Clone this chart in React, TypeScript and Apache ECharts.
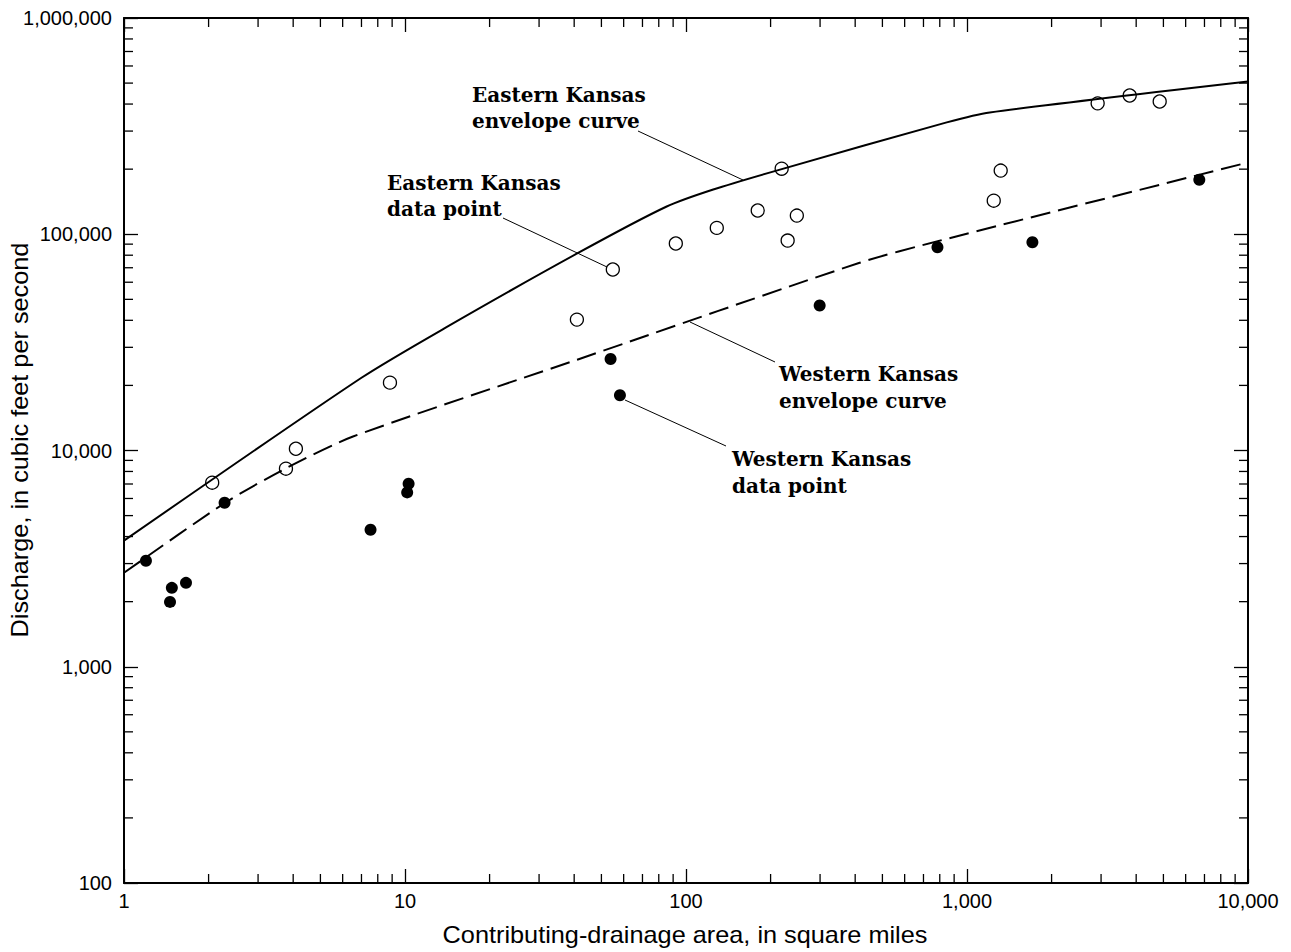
import React, { useEffect, useRef } from "react";
import * as echarts from "echarts";

// Eastern Kansas data points (open circles): [area sq mi, discharge cfs]
const eastArea = [2.06, 3.77, 4.09, 8.84, 40.9, 54.9, 92, 128.7, 180, 219, 230, 248, 1245, 1318, 2917, 3793, 4850];
const eastQ = [7100, 8240, 10190, 20600, 40300, 68700, 90600, 107000, 128800, 201000, 93500, 122000, 143000, 197000, 403000, 438000, 411000];

// Western Kansas data points (filled circles)
const westArea = [1.197, 1.48, 1.458, 1.662, 2.28, 7.54, 10.3, 10.18, 53.9, 58.2, 299, 785, 1709, 6710];
const westQ = [3090, 2317, 1995, 2443, 5730, 4300, 7020, 6400, 26500, 18000, 46800, 87100, 91800, 178600];

// Envelope curves
const eastEnvArea = [1, 7, 14, 41, 85, 125, 216, 847, 1205, 10000];
const eastEnvQ = [3830, 21700, 37100, 81500, 134000, 161000, 199000, 329000, 366000, 509000];
const westEnvArea = [1, 2.29, 3.8, 6.53, 41, 415, 787, 10000];
const westEnvQ = [2720, 5730, 8320, 11600, 26300, 73800, 92900, 214700];

// Minor tick values
const xMinorTicks = [2, 3, 4, 5, 6, 7, 8, 9, 20, 30, 40, 50, 60, 70, 80, 90, 200, 300, 400, 500, 600, 700, 800, 900, 2000, 3000, 4000, 5000, 6000, 7000, 8000, 9000];
const yMinorTicks = [200, 300, 400, 500, 600, 700, 800, 900, 2000, 3000, 4000, 5000, 6000, 7000, 8000, 9000, 20000, 30000, 40000, 50000, 60000, 70000, 80000, 90000, 200000, 300000, 400000, 500000, 600000, 700000, 800000, 900000];

const xTitle = "Contributing-drainage area, in square miles";
const yTitle = "Discharge, in cubic feet per second";

const zip = (a: number[], b: number[]) => a.map((v, i) => [v, b[i]]);
const fmt = (v: number) => String(Math.round(v)).replace(/\B(?=(\d{3})+(?!\d))/g, ",");

const SANS = "'Liberation Sans', Arial, sans-serif";
const SERIF = "'DejaVu Serif', serif";

export default function App() {
  const ref = useRef<HTMLDivElement>(null);
  useEffect(() => {
    if (!ref.current) return;
    const chart = echarts.init(ref.current, undefined, { renderer: "svg" });
    const axisLine = { show: true, lineStyle: { color: "#000", width: 2 } };
    const majorTick = { show: true, inside: true, length: 14, lineStyle: { color: "#000", width: 1.3 } };
    const label = (show: boolean, margin: number) => ({
      show,
      color: "#000",
      fontSize: 20,
      fontFamily: SANS,
      margin,
      formatter: (v: number) => fmt(v),
      showMinLabel: true,
      showMaxLabel: true,
    });
    const annText = (text: string, x: number, y: number) => ({
      type: "text",
      x,
      y,
      silent: true,
      style: {
        text,
        fill: "#000",
        fontSize: 20,
        fontWeight: "bold",
        fontFamily: SERIF,
        align: "left",
        verticalAlign: "middle",
        textAlign: "left",
        textVerticalAlign: "middle",
      },
    });
    const titleText = (text: string, x: number, y: number, rotation: number) => ({
      type: "text",
      x,
      y,
      rotation,
      scaleX: 1.1,
      silent: true,
      style: {
        text,
        fill: "#000",
        fontSize: 23,
        fontFamily: SANS,
        align: "center",
        verticalAlign: "middle",
        textAlign: "center",
        textVerticalAlign: "middle",
      },
    });
    const leader = (x1: number, y1: number, x2: number, y2: number) => ({
      type: "line",
      silent: true,
      shape: { x1, y1, x2, y2 },
      style: { stroke: "#000", lineWidth: 1 },
    });
    const tickRender = (dir: "x" | "y") => (params: any, api: any) => {
      const cs = params.coordSys;
      const pt = api.coord([api.value(0), api.value(1)]);
      const st = { stroke: "#000", lineWidth: 1.3 };
      const L = 9;
      if (dir === "x") {
        return {
          type: "group",
          children: [
            { type: "line", shape: { x1: pt[0], y1: cs.y + cs.height, x2: pt[0], y2: cs.y + cs.height - L }, style: st },
            { type: "line", shape: { x1: pt[0], y1: cs.y, x2: pt[0], y2: cs.y + L }, style: st },
          ],
        };
      }
      return {
        type: "group",
        children: [
          { type: "line", shape: { x1: cs.x, y1: pt[1], x2: cs.x + L, y2: pt[1] }, style: st },
          { type: "line", shape: { x1: cs.x + cs.width, y1: pt[1], x2: cs.x + cs.width - L, y2: pt[1] }, style: st },
        ],
      };
    };

    chart.setOption({
      animation: false,
      grid: { left: 124, right: 43, top: 18, bottom: 69, containLabel: false },
      xAxis: [
        {
          type: "log",
          logBase: 10,
          min: 1,
          max: 10000,
          position: "bottom",
          axisLine,
          axisTick: majorTick,
          axisLabel: label(true, 8),
          splitLine: { show: false },
        },
        {
          type: "log",
          logBase: 10,
          min: 1,
          max: 10000,
          position: "top",
          axisLine,
          axisTick: majorTick,
          axisLabel: { show: false },
          splitLine: { show: false },
        },
      ],
      yAxis: [
        {
          type: "log",
          logBase: 10,
          min: 100,
          max: 1000000,
          position: "left",
          axisLine,
          axisTick: majorTick,
          axisLabel: label(true, 12),
          splitLine: { show: false },
        },
        {
          type: "log",
          logBase: 10,
          min: 100,
          max: 1000000,
          position: "right",
          axisLine,
          axisTick: majorTick,
          axisLabel: { show: false },
          splitLine: { show: false },
        },
      ],
      series: [
        {
          name: "Eastern Kansas envelope curve",
          type: "line",
          data: zip(eastEnvArea, eastEnvQ),
          showSymbol: false,
          symbol: "none",
          smooth: 0.25,
          lineStyle: { color: "#000", width: 2 },
          z: 3,
        },
        {
          name: "Western Kansas envelope curve",
          type: "line",
          data: zip(westEnvArea, westEnvQ),
          showSymbol: false,
          symbol: "none",
          smooth: 0.25,
          lineStyle: { color: "#000", width: 2, type: [20, 8] },
          z: 3,
        },
        {
          name: "Eastern Kansas data point",
          type: "scatter",
          data: zip(eastArea, eastQ),
          symbol: "circle",
          symbolSize: 13,
          itemStyle: { color: "rgba(255,255,255,0)", borderColor: "#000", borderWidth: 1.3, opacity: 1 },
          z: 4,
        },
        {
          name: "Western Kansas data point",
          type: "scatter",
          data: zip(westArea, westQ),
          symbol: "circle",
          symbolSize: 12,
          itemStyle: { color: "#000", opacity: 1 },
          z: 4,
        },
        {
          type: "custom",
          silent: true,
          clip: false,
          data: xMinorTicks.map((v) => [v, 1000]),
          renderItem: tickRender("x"),
          z: 5,
        },
        {
          type: "custom",
          silent: true,
          clip: false,
          data: yMinorTicks.map((v) => [10, v]),
          renderItem: tickRender("y"),
          z: 5,
        },
      ],
      graphic: [
        titleText(xTitle, 685, 935, 0),
        titleText(yTitle, 20, 440, Math.PI / 2),
        annText("Eastern Kansas", 472, 95),
        annText("envelope curve", 472, 121),
        leader(638, 131, 743, 180),
        annText("Eastern Kansas", 387, 182.5),
        annText("data point", 387, 209),
        leader(503, 218, 607, 267),
        annText("Western Kansas", 779, 374),
        annText("envelope curve", 779, 401),
        leader(690, 322, 775, 362),
        annText("Western Kansas", 732, 459),
        annText("data point", 732, 485.5),
        leader(625, 400, 726, 446),
      ],
    });
    return () => chart.dispose();
  }, []);
  return (
    <div
      ref={ref}
      style={{ position: "fixed", left: 0, top: 0, width: 1291, height: 952, background: "#fff" }}
    />
  );
}
